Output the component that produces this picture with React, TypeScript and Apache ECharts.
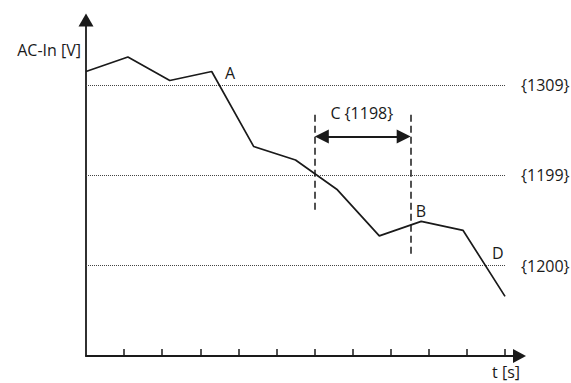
import React, { useEffect, useRef } from "react";
import * as echarts from "echarts";

// time positions (in tick units) and AC-In voltage (in threshold units)
const timeValues = [0, 1.1, 2.2, 3.3, 4.4, 5.5, 6.6, 7.7, 8.8, 9.9, 11.0];
const voltageValues = [3.15, 3.31, 3.05, 3.15, 2.32, 2.17, 1.84, 1.33, 1.49, 1.39, 0.66];
const xTicks = [1, 2, 3, 4, 5, 6, 7, 8, 9, 10, 11];

// threshold reference lines
const thresholdLevels = [3, 2, 1];
const thresholdLabels = ["{1309}", "{1199}", "{1200}"];

// annotation points
const annotationNames = ["A", "B", "D", "C {1198}"];
const annotationX = [3.78, 8.79, 10.81, 7.24];
const annotationY = [3.13, 1.61, 1.135, 2.69];

// interval C markers
const intervalStart = 6.0;
const intervalEnd = 8.53;
const intervalTop = 2.67;
const intervalStartBottom = 1.62;
const intervalEndBottom = 1.1;
const intervalArrowY = 2.43;

const FONT = "'Open Sans', 'Noto Sans', sans-serif";
const INK = "#1a1a1a";
const FS = 16;

export default function App() {
  const ref = useRef<HTMLDivElement>(null);

  useEffect(() => {
    document.body.style.margin = "0";
    if (!ref.current) return;
    const chart = echarts.init(ref.current, null, { renderer: "svg" });

    const option: any = {
      animation: false,
      backgroundColor: "#ffffff",
      grid: { left: 86, right: 51.5, top: 20, bottom: 27 },
      xAxis: {
        type: "value",
        min: 0,
        max: 11.38,
        interval: 1,
        splitLine: { show: false },
        axisLabel: { show: false },
        axisTick: {
          show: true,
          inside: true,
          length: 7,
          customValues: xTicks,
          lineStyle: { color: INK, width: 1.5 },
        },
        axisLine: {
          show: true,
          symbol: ["none", "triangle"],
          symbolSize: [14, 13],
          lineStyle: { color: INK, width: 1.8 },
        },
      },
      yAxis: {
        type: "value",
        min: 0,
        max: 3.72,
        splitLine: { show: false },
        axisLabel: { show: false },
        axisTick: { show: false },
        axisLine: {
          show: true,
          symbol: ["none", "triangle"],
          symbolSize: [15, 13],
          lineStyle: { color: INK, width: 1.8 },
        },
      },
      series: [
        {
          type: "line",
          name: "AC-In",
          data: timeValues.map((t, i) => [t, voltageValues[i]]),
          symbol: "none",
          lineStyle: { color: INK, width: 1.7 },
          z: 3,
          markLine: {
            silent: true,
            symbol: "none",
            lineStyle: { color: "#444", width: 1, type: "dotted" },
            label: {
              show: true,
              position: "end",
              distance: 16,
              color: INK,
              fontSize: FS,
              fontFamily: FONT,
            },
            data: thresholdLevels.map((lvl, i) => [
              { coord: [0, lvl], label: { formatter: thresholdLabels[i] } },
              { coord: [11, lvl] },
            ]),
          },
        },
        {
          type: "line",
          name: "interval",
          data: [],
          markLine: {
            silent: true,
            symbol: "none",
            label: { show: false },
            lineStyle: { color: INK, width: 1.5, type: [7, 4] },
            data: [
              [{ coord: [intervalStart, intervalTop] }, { coord: [intervalStart, intervalStartBottom] }],
              [{ coord: [intervalEnd, intervalTop] }, { coord: [intervalEnd, intervalEndBottom] }],
            ],
          },
        },
        {
          type: "line",
          name: "arrow",
          data: [],
          markLine: {
            silent: true,
            symbol: ["triangle", "triangle"],
            symbolSize: [14, 14],
            label: { show: false },
            lineStyle: { color: INK, width: 2, type: "solid" },
            data: [
              [{ coord: [intervalStart + 0.19, intervalArrowY] }, { coord: [intervalEnd - 0.19, intervalArrowY] }],
            ],
          },
        },
        {
          type: "scatter",
          name: "labels",
          symbolSize: 0,
          itemStyle: { color: "rgba(0,0,0,0)", opacity: 1 },
          data: annotationNames.map((n, i) => ({ name: n, value: [annotationX[i], annotationY[i]] })),
          label: {
            show: true,
            position: "inside",
            formatter: "{b}",
            color: INK,
            opacity: 1,
            textBorderWidth: 0,
            textBorderColor: "transparent",
            fontSize: FS,
            fontFamily: FONT,
          },
          z: 5,
        },
      ],
      graphic: [
        {
          type: "text",
          x: 81,
          y: 50,
          style: {
            text: "AC-In [V]",
            fill: INK,
            font: `${FS}px ${FONT}`,
            align: "right",
            verticalAlign: "middle",
          },
        },
        {
          type: "text",
          x: 506,
          y: 372,
          style: {
            text: "t [s]",
            fill: INK,
            font: `${FS}px ${FONT}`,
            align: "center",
            verticalAlign: "middle",
          },
        },
      ],
    };

    chart.setOption(option);
    return () => chart.dispose();
  }, []);

  return <div ref={ref} style={{ width: 571, height: 383 }} />;
}
